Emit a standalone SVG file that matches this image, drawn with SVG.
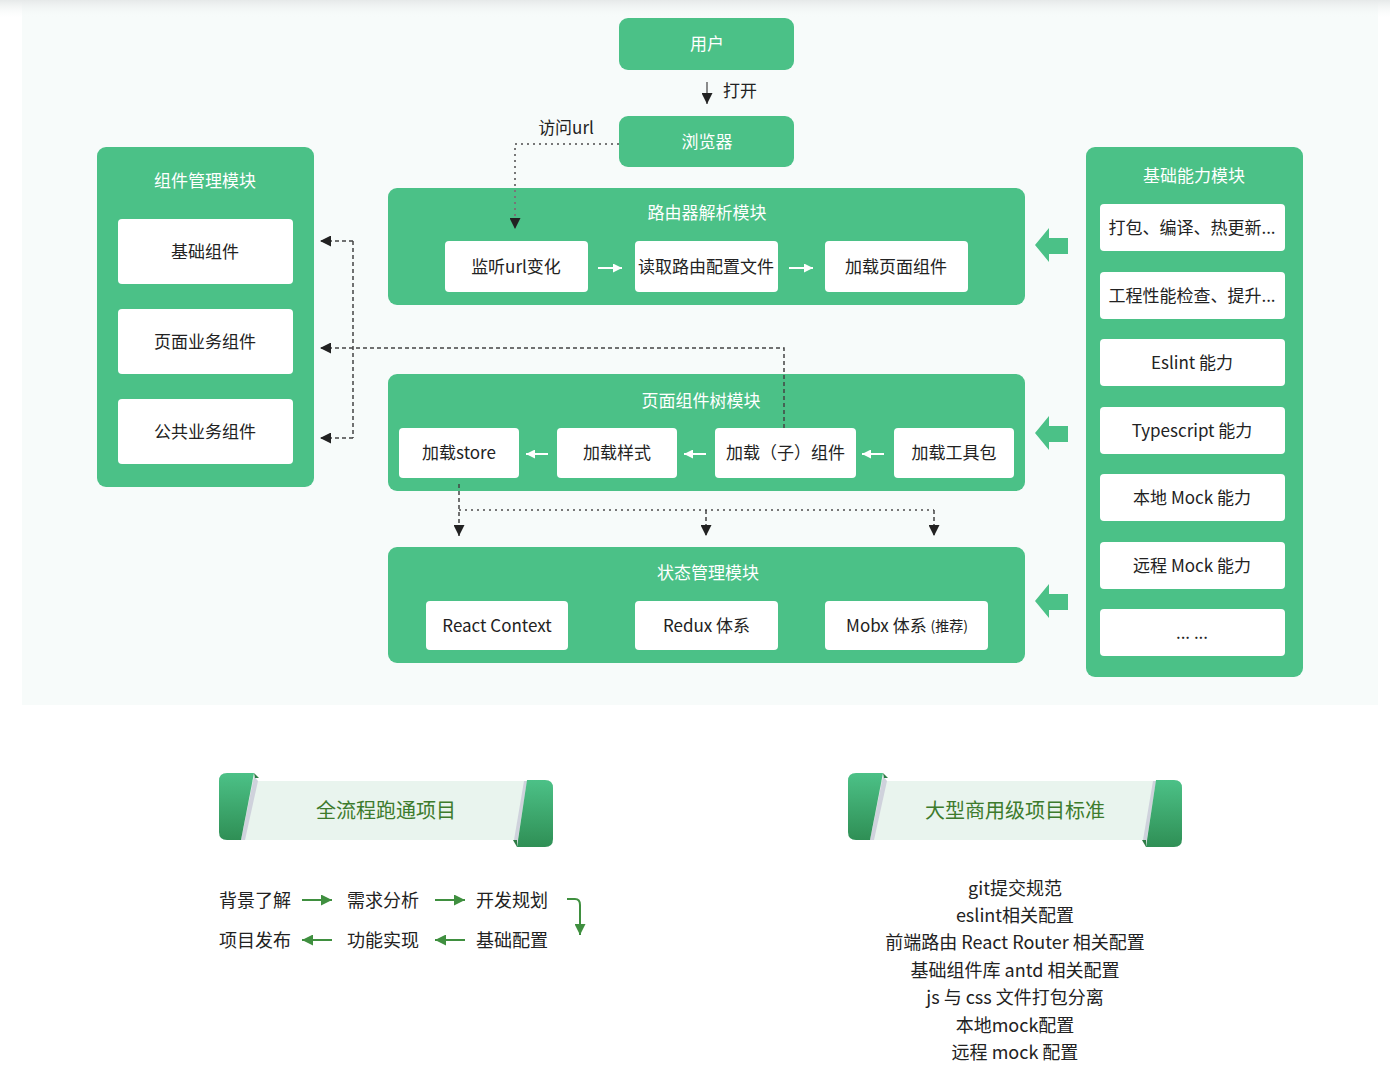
<svg xmlns="http://www.w3.org/2000/svg" width="1390" height="1090" viewBox="0 0 1390 1090">
<defs>
<style>
text{font-family:"Noto Sans CJK SC","Noto Sans",sans-serif;dominant-baseline:central;transform:translateY(-1.5px);}
.mod{fill:#4bc187;}
.box{fill:#ffffff;}
.mt{fill:#ffffff;font-size:17px;text-anchor:middle;}
.bt{fill:#222222;font-size:17px;text-anchor:middle;}
.dash{fill:none;stroke:#444;stroke-width:1.5;stroke-dasharray:4 3;}
.dot{fill:none;stroke:#777;stroke-width:2;stroke-dasharray:2 4;}
.warr{fill:none;stroke:#ffffff;stroke-width:2;}
.garr{fill:none;stroke:#3f8f3f;stroke-width:2;}
.big{fill:#4bc187;}
.ft{fill:#222;font-size:18px;}
.lt{fill:#222;font-size:18px;text-anchor:middle;}
.tt{fill:#3d7b2c;font-size:20px;text-anchor:middle;}
</style>
<marker id="ah" viewBox="0 0 10 10" refX="10" refY="5" markerUnits="userSpaceOnUse" markerWidth="11" markerHeight="11" orient="auto"><path d="M0,0 L10,5 L0,10 z" fill="#222"/></marker>
<marker id="wh" viewBox="0 0 10 10" refX="10" refY="5" markerUnits="userSpaceOnUse" markerWidth="9" markerHeight="9" orient="auto"><path d="M0,0 L10,5 L0,10 z" fill="#fff"/></marker>
<marker id="gh" viewBox="0 0 10 10" refX="10" refY="5" markerUnits="userSpaceOnUse" markerWidth="11" markerHeight="11" orient="auto"><path d="M0,0 L10,5 L0,10 z" fill="#3f8f3f"/></marker>
<linearGradient id="rib" x1="0" y1="0" x2="0" y2="1"><stop offset="0" stop-color="#4cc187"/><stop offset="1" stop-color="#2f8f55"/></linearGradient>
<linearGradient id="topsh" x1="0" y1="0" x2="0" y2="1"><stop offset="0" stop-color="#e6e9e9"/><stop offset="1" stop-color="#f7fbfa" stop-opacity="0"/></linearGradient>
</defs>
<rect x="0" y="0" width="1390" height="1090" fill="#ffffff"/>
<rect x="22" y="0" width="1356" height="705" fill="#f7fbfa"/>
<rect x="0" y="0" width="1390" height="18" fill="url(#topsh)"/>

<g id="user"><rect class="mod" x="619" y="18" width="175" height="52" rx="9"/><text class="mt" x="707" y="44">用户</text></g>
<g id="browser"><rect class="mod" x="619" y="116" width="175" height="51" rx="9"/><text class="mt" x="707" y="142">浏览器</text></g>

<g id="router-module">
<rect class="mod" x="388" y="188" width="637" height="117" rx="9"/>
<text class="mt" x="707" y="213">路由器解析模块</text>
<rect class="box" x="445" y="241" width="143" height="51" rx="4"/><text class="bt" x="516" y="267">监听url变化</text>
<rect class="box" x="635" y="241" width="143" height="51" rx="4"/><text class="bt" x="706" y="267">读取路由配置文件</text>
<rect class="box" x="825" y="241" width="143" height="51" rx="4"/><text class="bt" x="896" y="267">加载页面组件</text>
<path class="warr" d="M598,268 H622" marker-end="url(#wh)"/>
<path class="warr" d="M789,268 H813" marker-end="url(#wh)"/>
</g>

<g id="page-tree-module">
<rect class="mod" x="388" y="374" width="637" height="117" rx="9"/>
<text class="mt" x="701" y="401">页面组件树模块</text>
<rect class="box" x="399" y="428" width="120" height="50" rx="4"/><text class="bt" x="459" y="453">加载store</text>
<rect class="box" x="557" y="428" width="120" height="50" rx="4"/><text class="bt" x="617" y="453">加载样式</text>
<rect class="box" x="715" y="428" width="141" height="50" rx="4"/><text class="bt" x="785.5" y="453">加载（子）组件</text>
<rect class="box" x="894" y="428" width="120" height="50" rx="4"/><text class="bt" x="954" y="453">加载工具包</text>
<path class="warr" d="M548,454 H526" marker-end="url(#wh)"/>
<path class="warr" d="M706,454 H684" marker-end="url(#wh)"/>
<path class="warr" d="M884,454 H862" marker-end="url(#wh)"/>
</g>

<g id="state-module">
<rect class="mod" x="388" y="547" width="637" height="116" rx="9"/>
<text class="mt" x="708" y="573">状态管理模块</text>
<rect class="box" x="426" y="601" width="142" height="49" rx="4"/><text class="bt" x="497" y="626">React Context</text>
<rect class="box" x="635" y="601" width="143" height="49" rx="4"/><text class="bt" x="706.5" y="626">Redux 体系</text>
<rect class="box" x="825" y="601" width="163" height="49" rx="4"/><text class="bt" x="907" y="626">Mobx 体系  <tspan font-size="14">(推荐)</tspan></text>
</g>

<g id="component-module">
<rect class="mod" x="97" y="147" width="217" height="340" rx="9"/>
<text class="mt" x="205" y="181">组件管理模块</text>
<rect class="box" x="118" y="219" width="175" height="65" rx="4"/><text class="bt" x="205" y="252">基础组件</text>
<rect class="box" x="118" y="309" width="175" height="65" rx="4"/><text class="bt" x="205" y="342">页面业务组件</text>
<rect class="box" x="118" y="399" width="175" height="65" rx="4"/><text class="bt" x="205" y="432">公共业务组件</text>
</g>

<g id="base-module">
<rect class="mod" x="1086" y="147" width="217" height="530" rx="9"/>
<text class="mt" x="1194" y="176">基础能力模块</text>
<rect class="box" x="1100" y="204" width="185" height="47" rx="4"/><text class="bt" x="1192" y="228">打包、编译、热更新...</text>
<rect class="box" x="1100" y="272" width="185" height="47" rx="4"/><text class="bt" x="1192" y="296">工程性能检查、提升...</text>
<rect class="box" x="1100" y="339" width="185" height="47" rx="4"/><text class="bt" x="1192" y="363">Eslint 能力</text>
<rect class="box" x="1100" y="407" width="185" height="47" rx="4"/><text class="bt" x="1192" y="431">Typescript 能力</text>
<rect class="box" x="1100" y="474" width="185" height="47" rx="4"/><text class="bt" x="1192" y="498">本地 Mock 能力</text>
<rect class="box" x="1100" y="542" width="185" height="47" rx="4"/><text class="bt" x="1192" y="566">远程 Mock 能力</text>
<rect class="box" x="1100" y="609" width="185" height="47" rx="4"/><text class="bt" x="1192" y="633">... ...</text>
</g>

<g id="connectors">
<path d="M707,82 V104" fill="none" stroke="#666" stroke-width="1.5" marker-end="url(#ah)"/>
<text x="723" y="91" style="fill:#222;font-size:17px;">打开</text>
<text x="566" y="128" style="fill:#222;font-size:17px;text-anchor:middle;">访问url</text>
<path class="dot" d="M619,144 H515 V229" marker-end="url(#ah)"/>
<path class="dash" d="M353,241 V438"/>
<path class="dash" d="M353,241 H320" marker-end="url(#ah)"/>
<path class="dash" d="M353,438 H320" marker-end="url(#ah)"/>
<path class="dash" d="M784,428 V348 H320" marker-end="url(#ah)"/>
<path class="dash" d="M459,484 V536" marker-end="url(#ah)"/>
<path class="dot" d="M459,510 H934"/>
<path class="dash" d="M706,510 V536" marker-end="url(#ah)"/>
<path class="dash" d="M934,510 V536" marker-end="url(#ah)"/>
<path class="big" d="M1035,245 L1049,228 V238 H1068 V254 H1049 V262 Z"/>
<path class="big" d="M1035,433 L1049,416 V426 H1068 V442 H1049 V450 Z"/>
<path class="big" d="M1035,601 L1049,584 V594 H1068 V610 H1049 V618 Z"/>
</g>

<g id="banner-left">
<rect x="245" y="781" width="285" height="59" fill="#e9f4ee"/>
<path d="M254,776 L258,781 L245,840 L241,840 Z" fill="#cfd2dc"/>
<path d="M227,773 H254 L241,840 H227 Q219,840 219,832 V781 Q219,773 227,773 Z" fill="url(#rib)"/>
<path d="M254,773 L259,778 L255,778 Z" fill="#2f7a45"/>
<path d="M524,781 L527,781 L517,845 L514,840 Z" fill="#cfd2dc"/>
<path d="M527,780 H545 Q553,780 553,788 V839 Q553,847 545,847 H517 Z" fill="url(#rib)"/>
<path d="M513,840 L517,840 L517,847 Z" fill="#2f7a45"/>
<text class="tt" x="386" y="811">全流程跑通项目</text>
</g>

<g id="banner-right">
<rect x="874" y="781" width="285" height="59" fill="#e9f4ee"/>
<path d="M883,776 L887,781 L874,840 L870,840 Z" fill="#cfd2dc"/>
<path d="M856,773 H883 L870,840 H856 Q848,840 848,832 V781 Q848,773 856,773 Z" fill="url(#rib)"/>
<path d="M883,773 L888,778 L884,778 Z" fill="#2f7a45"/>
<path d="M1153,781 L1156,781 L1146,845 L1143,840 Z" fill="#cfd2dc"/>
<path d="M1156,780 H1174 Q1182,780 1182,788 V839 Q1182,847 1174,847 H1146 Z" fill="url(#rib)"/>
<path d="M1142,840 L1146,840 L1146,847 Z" fill="#2f7a45"/>
<text class="tt" x="1015" y="811">大型商用级项目标准</text>
</g>

<g id="flow">
<text class="ft" x="219" y="900">背景了解</text>
<text class="ft" x="347" y="900">需求分析</text>
<text class="ft" x="476" y="900">开发规划</text>
<text class="ft" x="219" y="940">项目发布</text>
<text class="ft" x="347" y="940">功能实现</text>
<text class="ft" x="476" y="940">基础配置</text>
<path class="garr" d="M302,900 H332" marker-end="url(#gh)"/>
<path class="garr" d="M435,900 H465" marker-end="url(#gh)"/>
<path class="garr" d="M332,940 H302" marker-end="url(#gh)"/>
<path class="garr" d="M465,940 H435" marker-end="url(#gh)"/>
<path class="garr" d="M567,899 H575 Q580,899 580,905 V935" marker-end="url(#gh)"/>
</g>

<g id="standards">
<text class="lt" x="1015" y="888">git提交规范</text>
<text class="lt" x="1015" y="915">eslint相关配置</text>
<text class="lt" x="1015" y="942">前端路由 React Router 相关配置</text>
<text class="lt" x="1015" y="970">基础组件库 antd 相关配置</text>
<text class="lt" x="1015" y="997">js 与 css 文件打包分离</text>
<text class="lt" x="1015" y="1025">本地mock配置</text>
<text class="lt" x="1015" y="1052">远程 mock 配置</text>
</g>
</svg>
